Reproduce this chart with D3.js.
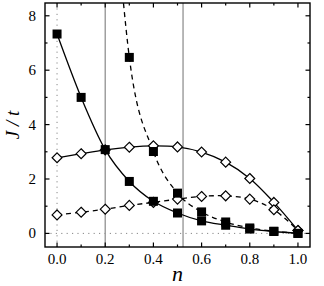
<!DOCTYPE html>
<html>
<head>
<meta charset="utf-8">
<script src="https://cdn.jsdelivr.net/npm/d3@7"></script>
<style>
  body { margin: 0; background: #fff; }
</style>
</head>
<body>
<svg id="chart" width="324" height="286"></svg>
<script>
// ── data ───────────────────────────────────────────────────────────────────
const nVals = [0.0, 0.1, 0.2, 0.3, 0.4, 0.5, 0.6, 0.7, 0.8, 0.9, 1.0];

// filled squares, solid fit
const sqSolid = [7.33, 5.0, 3.08, 1.91, 1.18, 0.75, 0.46, 0.3, 0.16, 0.07, 0.0];
// filled squares, dashed fit (starts at n = 0.3)
const sqDashN = [0.3, 0.4, 0.5, 0.6, 0.7, 0.8, 0.9, 1.0];
const sqDash  = [6.47, 3.01, 1.48, 0.79, 0.42, 0.2, 0.08, 0.0];
// dashed fit line continues above the plot top
const sqDashTopN = 0.272, sqDashTopY = 8.8;

// open diamonds, solid fit
const dmSolid = [2.78, 2.93, 3.07, 3.17, 3.22, 3.18, 2.99, 2.62, 2.02, 1.14, 0.11];
// open diamonds, dashed fit
const dmDash  = [0.68, 0.78, 0.89, 1.03, 1.14, 1.26, 1.36, 1.38, 1.26, 0.87, 0.11];

// gray vertical guides
const guides = [0.2, 0.523];

const xTicks = [0, 0.2, 0.4, 0.6, 0.8, 1.0];
const xMinor = [0.1, 0.3, 0.5, 0.7, 0.9];
const yTicks = [0, 2, 4, 6, 8];
const yMinor = [1, 3, 5, 7];

const FONT = "Liberation Serif";

// ── layout ─────────────────────────────────────────────────────────────────
const L = 45, R = 310, T = 3, B = 247;
const svg = d3.select("#chart");

const x = d3.scaleLinear().domain([-0.05, 1.05]).range([L, R]);
const y = d3.scaleLinear().domain([-0.5, 8.47]).range([B, T]);

// clip for curves
svg.append("clipPath").attr("id", "clip")
  .append("rect").attr("x", L).attr("y", T).attr("width", R - L).attr("height", B - T);

// dotted zero lines
svg.append("line")
  .attr("x1", x(0)).attr("x2", x(0)).attr("y1", T).attr("y2", B)
  .attr("stroke", "#888").attr("stroke-width", 1).attr("stroke-dasharray", "1.2,4.2");
svg.append("line")
  .attr("x1", L).attr("x2", R).attr("y1", y(0)).attr("y2", y(0))
  .attr("stroke", "#888").attr("stroke-width", 1).attr("stroke-dasharray", "1.2,4.2");

// gray guides
guides.forEach(g => {
  svg.append("line")
    .attr("x1", x(g)).attr("x2", x(g)).attr("y1", T).attr("y2", B)
    .attr("stroke", "#999").attr("stroke-width", 1.4);
});

// ── curves ─────────────────────────────────────────────────────────────────
const pts = (xs, ys) => xs.map((v, i) => [v, ys[i]]);
const curves = svg.append("g").attr("clip-path", "url(#clip)");

const lineMono = d3.line().x(d => x(d[0])).y(d => y(d[1])).curve(d3.curveMonotoneX);
const lineCR   = d3.line().x(d => x(d[0])).y(d => y(d[1])).curve(d3.curveCatmullRom.alpha(0.5));

curves.append("path").datum(pts(nVals, sqSolid))
  .attr("d", lineMono).attr("fill", "none").attr("stroke", "#000").attr("stroke-width", 1.3);
curves.append("path").datum([[sqDashTopN, sqDashTopY]].concat(pts(sqDashN, sqDash)))
  .attr("d", lineMono).attr("fill", "none").attr("stroke", "#000").attr("stroke-width", 1.3)
  .attr("stroke-dasharray", "5,4");
curves.append("path").datum(pts(nVals, dmSolid))
  .attr("d", lineCR).attr("fill", "none").attr("stroke", "#000").attr("stroke-width", 1.3);
curves.append("path").datum(pts(nVals, dmDash))
  .attr("d", lineCR).attr("fill", "none").attr("stroke", "#000").attr("stroke-width", 1.3)
  .attr("stroke-dasharray", "5,4");

// ── markers ────────────────────────────────────────────────────────────────
const sq = 9;
function squares(data) {
  svg.append("g").selectAll("rect").data(data).join("rect")
    .attr("x", d => x(d[0]) - sq / 2).attr("y", d => y(d[1]) - sq / 2)
    .attr("width", sq).attr("height", sq).attr("fill", "#000");
}
const diamond = d3.symbol().type(d3.symbolDiamond2).size(62);
function diamonds(data) {
  svg.append("g").selectAll("path").data(data).join("path")
    .attr("transform", d => `translate(${x(d[0])},${y(d[1])})`)
    .attr("d", diamond).attr("fill", "#fff").attr("stroke", "#000").attr("stroke-width", 1.2);
}
diamonds(pts(nVals, dmSolid));
diamonds(pts(nVals, dmDash));
squares(pts(nVals, sqSolid));
squares(pts(sqDashN, sqDash));

// ── frame and ticks (inside, all four sides) ───────────────────────────────
const axG = svg.append("g");
const tk = (sel) => sel.attr("stroke", "#000").attr("stroke-width", 1.2);
[[xTicks, 4.5], [xMinor, 2.5]].forEach(([vals, len]) => {
  vals.forEach(v => {
    tk(axG.append("line").attr("x1", x(v)).attr("x2", x(v)).attr("y1", B).attr("y2", B - len));
    tk(axG.append("line").attr("x1", x(v)).attr("x2", x(v)).attr("y1", T).attr("y2", T + len));
  });
});
[[yTicks, 4.5], [yMinor, 2.5]].forEach(([vals, len]) => {
  vals.forEach(v => {
    tk(axG.append("line").attr("y1", y(v)).attr("y2", y(v)).attr("x1", L).attr("x2", L + len));
    tk(axG.append("line").attr("y1", y(v)).attr("y2", y(v)).attr("x1", R).attr("x2", R - len));
  });
});
svg.append("rect").attr("x", L).attr("y", T).attr("width", R - L).attr("height", B - T)
  .attr("fill", "none").attr("stroke", "#000").attr("stroke-width", 1.4);

// text helper: inline style so nothing overrides the serif face
const serif = (sel, size) => sel
  .style("font-family", FONT, "important")
  .style("font-size", size + "px", "important");

// tick labels
serif(svg.append("g").selectAll("text").data(xTicks).join("text")
  .attr("x", d => x(d)).attr("y", 264).attr("text-anchor", "middle")
  .text(d => d3.format(".1f")(d)), 15);
serif(svg.append("g").selectAll("text").data(yTicks).join("text")
  .attr("x", 36).attr("y", d => y(d) + 5).attr("text-anchor", "end")
  .text(d => d), 15);

// axis titles
serif(svg.append("text")
  .attr("x", (L + R) / 2).attr("y", 281).attr("text-anchor", "middle")
  .style("font-style", "italic").text("n"), 22);
serif(svg.append("text")
  .attr("transform", `translate(19,${125}) rotate(-90)`).attr("text-anchor", "middle")
  .style("font-style", "italic").text("J / t"), 19);
</script>
</body>
</html>
